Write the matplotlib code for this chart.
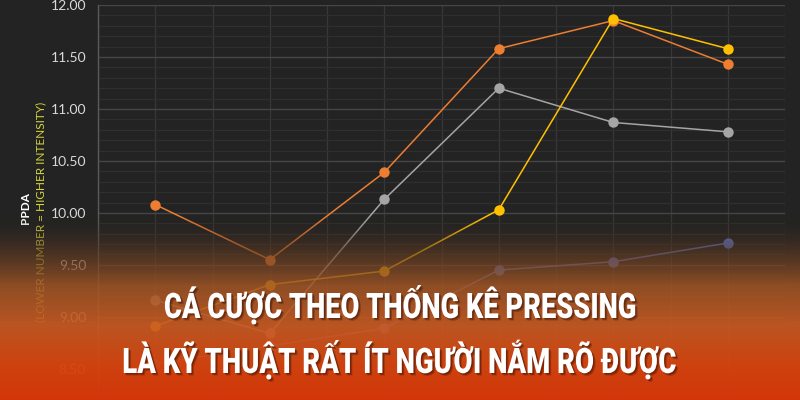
import numpy as np
import matplotlib
matplotlib.use("Agg")
import matplotlib.pyplot as plt
import matplotlib.patheffects as pe
from matplotlib.transforms import Affine2D
from matplotlib.colors import to_rgb

# ---------------- data ----------------
categories = ["1", "2", "3", "4", "5", "6"]
orange_vals = [10.08, 9.55, 10.39, 11.58, 11.85, 11.43]
gray_vals = [9.16, 8.84, 10.13, 11.20, 10.87, 10.78]
yellow_vals = [8.91, 9.31, 9.44, 10.03, 11.87, 11.58]
blue_vals = [8.55, 8.72, 8.89, 9.45, 9.53, 9.71]
y_ticks = [8.5, 9.0, 9.5, 10.0, 10.5, 11.0, 11.5, 12.0]
title_line1 = "CÁ CƯỢC THEO THỐNG KÊ PRESSING"
title_line2 = "LÀ KỸ THUẬT RẤT ÍT NGƯỜI NẮM RÕ ĐƯỢC"
ylabel_main = "PPDA"
ylabel_sub = "(LOWER NUMBER = HIGHER INTENSITY)"

series = [
    (orange_vals, "#ed7d31"),
    (gray_vals, "#a5a5a5"),
    (yellow_vals, "#ffc000"),
    (blue_vals, "#5b74c8"),
]

BG = "#232323"


class StretchShadow(pe.AbstractPathEffect):
    """Draw the text path stretched vertically about its baseline, with a soft shadow."""

    def __init__(self, sy=1.0, by=0.0):
        super().__init__((0, 0))
        self.sy = sy
        self.by = by

    def draw_path(self, renderer, gc, tpath, affine, rgbFace=None):
        st = Affine2D().translate(0, -self.by).scale(1, self.sy).translate(0, self.by)
        for (dx, dy, a) in [(2.5, -2.5, 0.25), (1.5, -1.5, 0.35)]:
            g = renderer.new_gc()
            g.copy_properties(gc)
            g.set_alpha(a)
            g.set_linewidth(0)
            aff = affine + st + Affine2D().translate(dx, dy)
            renderer.draw_path(g, tpath, aff, (0.16, 0.04, 0.0))
            g.restore()
        renderer.draw_path(gc, tpath, affine + st, rgbFace)


fig = plt.figure(figsize=(8, 4), dpi=100, facecolor=BG)
ax = fig.add_axes([98 / 800, 0, (785 - 98) / 800, 395 / 400], facecolor=BG)

x = np.arange(len(categories))
for vals, col in series:
    ax.plot(x, vals, color=col, lw=1.1, marker="o", ms=7.5,
            markeredgewidth=0, zorder=3)

ax.set_xlim(-0.5, len(categories) - 0.5)
ax.set_ylim(8.2, 12.0)
ax.set_yticks(y_ticks)
ax.set_yticklabels([f"{v:.2f}" for v in y_ticks])
ax.set_yticks(np.arange(8.2, 12.0, 0.1), minor=True)
ax.set_xticks(np.arange(-0.5, len(categories), 0.5))
ax.set_xticklabels([])
ax.tick_params(axis="both", which="both", length=0)
ax.tick_params(axis="y", which="major", pad=8.5, labelcolor="#d9d9d9",
               labelsize=10)
for lab in ax.get_yticklabels():
    lab.set_family(["Lato", "DejaVu Sans"])
ax.grid(axis="y", which="major", color="#464646", lw=1.0, zorder=0)
ax.grid(axis="y", which="minor", color="#2f2f2f", lw=0.9, zorder=0)
ax.grid(axis="x", which="major", color="#383838", lw=0.9, zorder=0)
for s in ["top", "right", "bottom"]:
    ax.spines[s].set_visible(False)
ax.spines["left"].set_color("#5a5a5a")
ax.spines["left"].set_linewidth(1.0)

fig.text(25 / 800, 1 - 208 / 400, ylabel_main, rotation=90, color="white",
         fontsize=8.5, fontweight="bold", ha="center", va="center",
         family=["Lato", "DejaVu Sans"])
fig.text(41 / 800, 1 - 212 / 400, ylabel_sub, rotation=90, color="#d6d63c",
         fontsize=8.5, ha="center", va="center", family=["Lato", "DejaVu Sans"])

# gradient overlay (top transparent -> orange-red at bottom)
stops_y = [0, 215, 250, 285, 325, 365, 400]
stops_rgb = ["#232323", "#2a2420", "#5c3a22", "#a05525", "#c95a22", "#d6440f", "#d8360a"]
stops_a = [0.0, 0.0, 0.6, 0.86, 0.92, 0.96, 0.98]
rows = np.arange(400)
rgb = np.array([to_rgb(c) for c in stops_rgb])
img = np.zeros((400, 1, 4))
for k in range(3):
    img[:, 0, k] = np.interp(rows, stops_y, rgb[:, k])
img[:, 0, 3] = np.interp(rows, stops_y, stops_a)
ov = fig.add_axes([0, 0, 1, 1], zorder=5)
ov.imshow(img, aspect="auto", extent=(0, 1, 0, 1), origin="upper",
          interpolation="bilinear")
ov.set_xlim(0, 1)
ov.set_ylim(0, 1)
ov.axis("off")

big_kw = dict(family=["Roboto", "DejaVu Sans"], fontweight="black",
              fontsize=20, color="white", ha="center", va="baseline", zorder=10)
lines = [(title_line1, 318, 472), (title_line2, 373, 554)]
texts = [fig.text(0.5, 1 - yb / 400, s, **big_kw) for s, yb, _ in lines]

# size each line to the reference width, then stretch vertically to cap height
fig.canvas.draw()
r = fig.canvas.get_renderer()
CAP_PX = 25.0
for t, (s, yb, wt) in zip(texts, lines):
    w = t.get_window_extent(r).width
    fs = 20 * wt / w
    t.set_fontsize(fs)
    cap = 0.711 * fs * 100 / 72
    t.set_path_effects([StretchShadow(sy=CAP_PX / cap, by=400 - yb)])

fig.savefig("out.png", dpi=100, facecolor=BG)
